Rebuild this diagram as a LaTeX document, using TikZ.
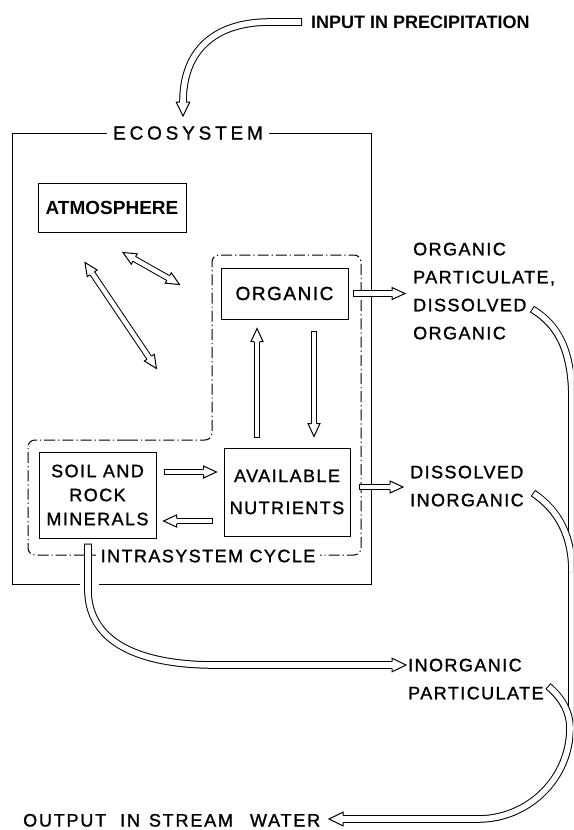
\documentclass[tikz,border=0pt]{standalone}
\usepackage{fontspec}
\setmainfont{Liberation Sans}
\newfontfamily\lab[LetterSpace=8,FakeBold=1.3]{Liberation Sans}
\newfontfamily\labwide[LetterSpace=20,FakeBold=1]{Liberation Sans}
\newfontfamily\labout[LetterSpace=10,FakeBold=1.3]{Liberation Sans}
\usetikzlibrary{calc}
\tikzset{
  box/.style={draw, line width=1pt, inner sep=0pt, align=center, font=\lab\fontsize{18}{24}\selectfont},
  txt/.style={inner sep=0pt, font=\lab\fontsize{18}{28}\selectfont},
  bandout/.style={line width=7.6pt},
  bandin/.style={white, line width=5.6pt},
  shaftout/.style={line width=6.4pt},
  shaftin/.style={white, line width=4.4pt},
  dd/.style={line width=1pt, dash pattern=on 11pt off 3pt on 1.2pt off 3pt},
}
\newcommand\band[2][band]{\draw[#1out] #2; \draw[#1in, shorten <=1pt] #2;}
\newcommand\bighead[2]{\begin{scope}[shift={(#1)},rotate=#2]
  \filldraw[fill=white,line width=1pt] (-14,3.3) -- (-14,6.8) -- (0,0) -- (-14,-6.8) -- (-14,-3.3);
  \end{scope}}
\newcommand\smallhead[2]{\begin{scope}[shift={(#1)},rotate=#2]
  \filldraw[fill=white,line width=1pt] (-13,2.7) -- (-13,6) -- (0,0) -- (-13,-6) -- (-13,-2.7);
  \end{scope}}
\newcommand\sarrow[3]{\band[shaft]{(#1) -- ($(#2)!13pt!(#1)$)}\smallhead{#2}{#3}}
\newcommand\darrow[4]{%
  \draw[shaftout] ($(#1)!13pt!(#2)$) -- ($(#2)!13pt!(#1)$);
  \draw[shaftin] ($(#1)!13pt!(#2)$) -- ($(#2)!13pt!(#1)$);
  \smallhead{#2}{#3}\smallhead{#1}{#4}}
\begin{document}
\begin{tikzpicture}[x=1pt,y=-1pt]
\useasboundingbox (0,0) rectangle (573,830);
\clip (0,0) rectangle (573,830);

% ecosystem frame
\draw[line width=1pt] (80,584) -- (12,584) -- (12,133) -- (371,133) -- (371,584) -- (99,584);
\node[txt, font=\labwide\fontsize{19}{24}\selectfont, fill=white, inner xsep=6pt, inner ysep=2pt] (eco) at (188,133) {ECOSYSTEM};

% intrasystem cycle boundary
\draw[dd, rounded corners=7pt] (120,440) -- (212,440) -- (212,255) -- (361,255) -- (361,555) -- (28,555) -- (28,440) -- cycle;
\node[txt, fill=white, inner xsep=5pt, inner ysep=2pt] (cyc) at (208,556) {INTRASYSTEM CYCLE};

% boxes
\node[box, minimum width=148pt, minimum height=49pt, font=\rmfamily\bfseries\fontsize{19}{24}\selectfont] (atm) at (112,207.5) {ATMOSPHERE};
\node[box, minimum width=127pt, minimum height=51pt, font=\lab\fontsize{19}{24}\selectfont] (org) at (284.5,293.5) {ORGANIC};
\node[box, minimum width=117pt, minimum height=86pt] (soil) at (97.5,495) {SOIL AND\\ROCK\\MINERALS};
\node[box, minimum width=126pt, minimum height=88pt, font=\lab\fontsize{18}{32}\selectfont] (avail) at (287,492) {AVAILABLE\\NUTRIENTS};

% outside labels
\node[txt, font=\rmfamily\bfseries\fontsize{18}{24}\selectfont, anchor=west] (inp) at (311,22) {INPUT IN PRECIPITATION};
\node[txt, anchor=north west, align=left] (orglab) at (413,242.5) {ORGANIC\\PARTICULATE,\\DISSOLVED\\ORGANIC};
\node[txt, anchor=north west, align=left] (dislab) at (410,465.5) {DISSOLVED\\INORGANIC};
\node[txt, anchor=north west, align=left] (iplab) at (408,658.5) {INORGANIC\\PARTICULATE};
\node[txt, font=\labout\fontsize{18}{24}\selectfont, anchor=base west] (out) at (23,826.5) {OUTPUT\hspace{14pt}IN\hspace{9pt}STREAM\hspace{17pt}WATER};

% straight hollow arrows
\coordinate (a1s) at ($(org.east)+(4,0)$);
\coordinate (a1e) at ($(orglab.west |- org.east)+(-8,0)$);
\sarrow{a1s}{a1e}{0}
\coordinate (a2s) at ($(avail.east)+(8,-5)$);
\coordinate (a2e) at ($(dislab.west |- a2s)+(-7,0)$);
\sarrow{a2s}{a2e}{0}
\coordinate (a3s) at ($(soil.east)+(7,-23)$);
\coordinate (a3e) at ($(avail.west |- a3s)+(-7,0)$);
\sarrow{a3s}{a3e}{0}
\coordinate (a4s) at ($(avail.west)+(-11,29)$);
\coordinate (a4e) at ($(soil.east |- a4s)+(7,0)$);
\sarrow{a4s}{a4e}{180}
\coordinate (a5s) at ($(avail.north)+(-30,-10)$);
\coordinate (a5e) at ($(org.south -| a5s)+(0,9)$);
\sarrow{a5s}{a5e}{90}
\coordinate (a6s) at ($(org.south)+(29.5,11)$);
\coordinate (a6e) at ($(avail.north -| a6s)+(0,-11)$);
\sarrow{a6s}{a6e}{-90}

% double arrows from atmosphere
\coordinate (d1a) at ($(atm.south)+(11,20)$);
\coordinate (d1b) at ($(org.north west)+(-41,17)$);
\darrow{d1a}{d1b}{-30.07}{149.93}
\coordinate (d2a) at ($(atm.south)+(-27,30)$);
\coordinate (d2b) at ($(soil.north east)+(0,-83)$);
\darrow{d2a}{d2b}{-56.43}{123.57}

% input band
\coordinate (inT) at ($(inp.west)+(-9,0)$);
\coordinate (inH) at (183,116);
\band{(inT) -- (270,22) .. controls (215,22) and (183,50) .. (183,102)}
\bighead{inH}{-90}

% soil to inorganic particulate
\coordinate (soT) at ($(soil.south)+(-9.5,5)$);
\coordinate (soH) at ($(iplab.north west)+(-2,6.5)$);
\band{(soT) -- (88,592) .. controls (90,648) and (150,665) .. (215,665) -- (392,665)}
\bighead{soH}{0}

% trunk to stream water
\coordinate (orT) at (532,309);
\band{(orT) .. controls (558,325) and (572,350) .. (572,400) -- (572,725)}
\coordinate (diT) at (533,493);
\band{(diT) .. controls (558,510) and (572,535) .. (572,572)}
\coordinate (ipT) at (548,686);
\coordinate (outH) at (329,819);
\band{(ipT) .. controls (562,698) and (570,712) .. (570,728) .. controls (570,778) and (529,819) .. (478,819) -- (343,819)}
\bighead{outH}{180}
\end{tikzpicture}
\end{document}
